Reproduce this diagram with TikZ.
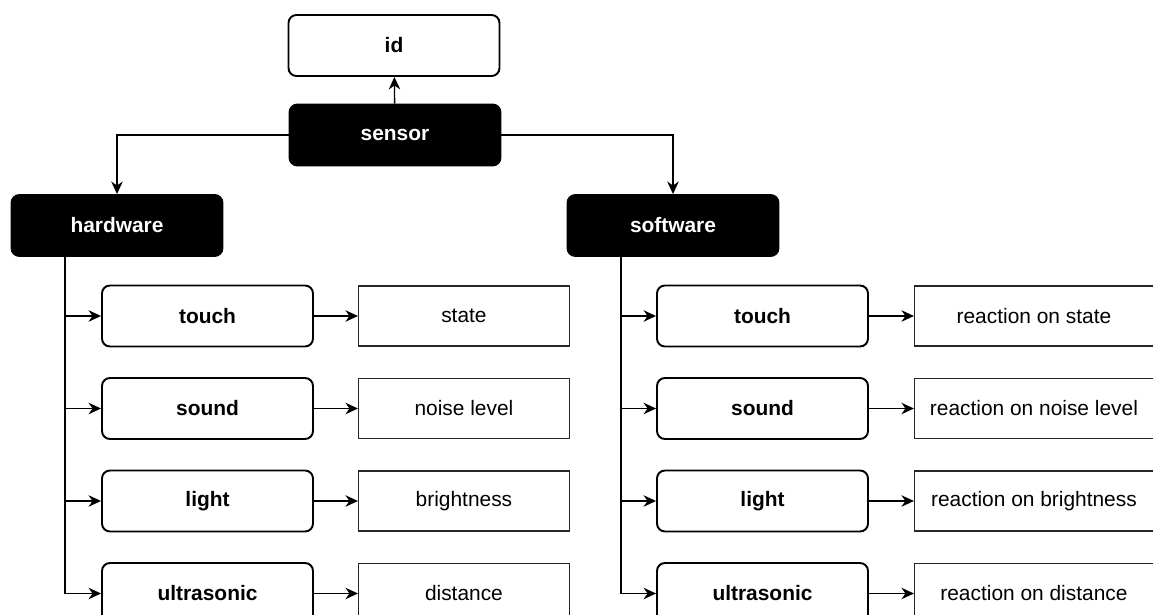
\documentclass[tikz,border=0pt]{standalone}
\usepackage{fontspec}
\setmainfont{Liberation Sans}
\usetikzlibrary{arrows.meta, positioning}

\begin{document}
\begin{tikzpicture}[x=0.02cm, y=-0.02cm,
		group/.style={draw=black, fill=black, text=white, rounded corners=4.5pt, line width=1.1pt,
			minimum width=4.22cm, minimum height=1.22cm, font=\fontsize{11.9}{14}\selectfont\bfseries},
		item/.style={draw=black, fill=white, rounded corners=4.5pt, line width=1.1pt,
			minimum width=4.22cm, minimum height=1.22cm, font=\fontsize{11.9}{14}\selectfont\bfseries},
		value/.style={draw=black!85, fill=white, line width=0.6pt,
			minimum width=4.22cm, minimum height=1.2cm, font=\fontsize{11.9}{14}\selectfont},
		arrow/.style={-{Stealth[length=2.5mm, width=2.3mm, inset=0.8mm]}, line width=0.75pt},
		node distance=0.88cm
	]
		\useasboundingbox (0,0) rectangle (1153,615);
		\node[item] (id) at (394,45.5) {id};
		\node[group] (sensor) at (395,135) {sensor};
		\node[group] (hardware) at (117,225.5) {hardware};
		\node[group] (software) at (673,225.5) {software};
		\draw[arrow] (sensor) -- (id);
		\draw[arrow] (sensor.west) -| (hardware.north);
		\draw[arrow] (sensor.east) -| (software.north);
		\coordinate (hwroot) at (65,256);
		\coordinate (swroot) at (621,256);
		% hardware side
		\foreach \name/\txt/\res/\y in {touch/touch/state/316, sound/sound/noise level/408.5,
				light/light/brightness/501, ultra/ultrasonic/distance/593.5} {
			\node[item] (hw\name) at (207.5,\y) {\txt};
			\node[value, right=of hw\name] (hw\name val) {\res};
			\draw[arrow] (hwroot) |- (hw\name);
			\draw[arrow] (hw\name) -- (hw\name val);
		}
		% software side
		\foreach \name/\txt/\res/\y in {touch/touch/reaction on state/316, sound/sound/reaction on noise level/408.5,
				light/light/reaction on brightness/501, ultra/ultrasonic/reaction on distance/593.5} {
			\node[item] (sw\name) at (762.5,\y) {\txt};
			\node[value, minimum width=4.78cm, right=0.9cm of sw\name] (sw\name val) {\res};
			\draw[arrow] (swroot) |- (sw\name);
			\draw[arrow] (sw\name) -- (sw\name val);
		}
	\end{tikzpicture}
\end{document}
